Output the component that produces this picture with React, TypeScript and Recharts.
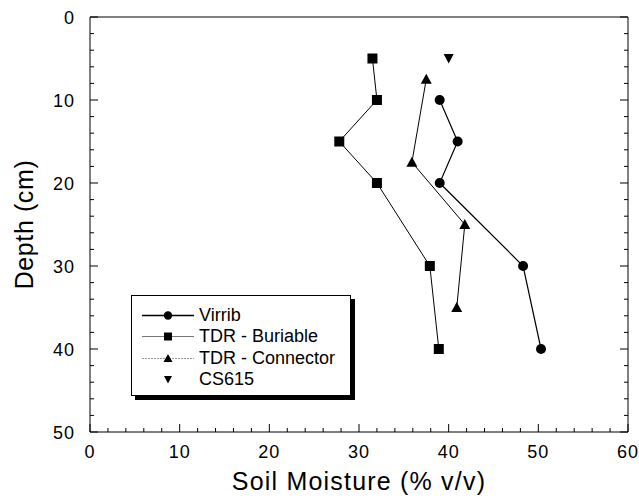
import React from "react";
import { Legend, Scatter, ScatterChart, XAxis, YAxis } from "recharts";

const FONT = '"Liberation Sans", Arial, Helvetica, sans-serif';

const xTicks = [0, 2, 4, 6, 8, 10, 12, 14, 16, 18, 20, 22, 24, 26, 28, 30, 32, 34, 36, 38, 40, 42, 44, 46, 48, 50, 52, 54, 56, 58, 60];
const yTicks = [0, 2, 4, 6, 8, 10, 12, 14, 16, 18, 20, 22, 24, 26, 28, 30, 32, 34, 36, 38, 40, 42, 44, 46, 48, 50];

const virribMoisture = [39, 41, 39, 48.3, 50.3];
const virribDepth = [10, 15, 20, 30, 40];
const buriableMoisture = [31.5, 32, 27.8, 32, 37.9, 38.9];
const buriableDepth = [5, 10, 15, 20, 30, 40];
const connectorMoisture = [37.5, 35.9, 41.8, 40.9];
const connectorDepth = [7.5, 17.5, 25, 35];
const cs615Moisture = [40];
const cs615Depth = [5];

const pts = (xs: number[], ys: number[]) => xs.map((x, i) => ({ x, y: ys[i] }));

const isMajor = (v: number) => v % 10 === 0;

function BottomTick(props: any) {
  const { x, y, payload } = props;
  const major = isMajor(payload.value);
  return (
    <g>
      <line x1={x} x2={x} y1={y} y2={y - (major ? 8 : 4)} stroke="#000" />
      {major && (
        <text x={x} y={y + 26} textAnchor="middle" fontSize={18} letterSpacing={1} fontFamily={FONT} fill="#000">
          {payload.value}
        </text>
      )}
    </g>
  );
}

function TopTick(props: any) {
  const { x, y, payload } = props;
  return <line x1={x} x2={x} y1={y} y2={y + (isMajor(payload.value) ? 8 : 4)} stroke="#000" />;
}

function LeftTick(props: any) {
  const { x, y, payload } = props;
  const major = isMajor(payload.value);
  return (
    <g>
      <line x1={x} x2={x + (major ? 8 : 4)} y1={y} y2={y} stroke="#000" />
      {major && (
        <text x={x - 15} y={y + 6.5} textAnchor="end" fontSize={18} letterSpacing={1} fontFamily={FONT} fill="#000">
          {payload.value}
        </text>
      )}
    </g>
  );
}

function RightTick(props: any) {
  const { x, y, payload } = props;
  return <line x1={x} x2={x - (isMajor(payload.value) ? 8 : 4)} y1={y} y2={y} stroke="#000" />;
}

const Circle = ({ cx, cy }: any) => <circle cx={cx} cy={cy} r={5} fill="#000" />;
const Square = ({ cx, cy }: any) => <rect x={cx - 5} y={cy - 5} width={10} height={10} fill="#000" />;
const Triangle = ({ cx, cy }: any) => (
  <polygon points={`${cx},${cy - 5.5} ${cx + 5.5},${cy + 4.5} ${cx - 5.5},${cy + 4.5}`} fill="#000" />
);
const DownTriangle = ({ cx, cy }: any) => (
  <polygon points={`${cx - 5},${cy - 4.5} ${cx + 5},${cy - 4.5} ${cx},${cy + 5}`} fill="#000" />
);

const legendRows = [
  { name: "Virrib", stroke: "#000", width: 1.4, dash: undefined, mark: "circle" },
  { name: "TDR - Buriable", stroke: "#777", width: 1, dash: undefined, mark: "square" },
  { name: "TDR - Connector", stroke: "#999", width: 1, dash: "2 1", mark: "triangle" },
  { name: "CS615", stroke: "none", width: 0, dash: undefined, mark: "down" },
];

function LegendMark({ mark }: { mark: string }) {
  const cx = 36;
  const cy = 10.5;
  if (mark === "circle") return <circle cx={cx} cy={cy} r={4.2} fill="#000" />;
  if (mark === "square") return <rect x={cx - 4} y={cy - 4} width={8} height={8} fill="#000" />;
  if (mark === "triangle")
    return <polygon points={`${cx},${cy - 4.5} ${cx + 4.5},${cy + 3.5} ${cx - 4.5},${cy + 3.5}`} fill="#000" />;
  return <polygon points={`${cx - 4},${cy - 3.5} ${cx + 4},${cy - 3.5} ${cx},${cy + 4}`} fill="#000" />;
}

function LegendBox() {
  return (
    <div
      style={{
        width: 218,
        height: 90,
        border: "1px solid #000",
        boxShadow: "4px 4px 0 #000",
        background: "#fff",
        paddingTop: 9,
        boxSizing: "content-box",
        fontFamily: FONT,
        fontSize: 18,
      }}
    >
      {legendRows.map((r) => (
        <div key={r.name} style={{ display: "flex", alignItems: "center", height: 21.3 }}>
          <svg width={64} height={21}>
            {r.stroke !== "none" && (
              <line x1={10} x2={62} y1={10.5} y2={10.5} stroke={r.stroke} strokeWidth={r.width} strokeDasharray={r.dash} />
            )}
            <LegendMark mark={r.mark} />
          </svg>
          <span style={{ marginLeft: 3, lineHeight: "21px" }}>{r.name}</span>
        </div>
      ))}
    </div>
  );
}

export default function App() {
  return (
    <div style={{ position: "absolute", left: 0, top: 0, background: "#fff" }}>
      <ScatterChart width={639} height={502} margin={{ top: 0, right: 0, bottom: 0, left: 0 }}>
        <XAxis
          xAxisId="bottom"
          type="number"
          dataKey="x"
          domain={[0, 60]}
          ticks={xTicks}
          interval={0}
          allowDataOverflow
          height={70}
          tickSize={0}
          tickMargin={0}
          tickLine={false}
          axisLine={{ stroke: "#000" }}
          tick={(p: any) => <BottomTick {...p} />}
          label={({ viewBox }: any) => (
            <text
              x={viewBox.x + viewBox.width / 2}
              y={viewBox.y + 58}
              textAnchor="middle"
              fontSize={25}
              letterSpacing={1.2}
              fontFamily={FONT}
              fill="#000"
            >
              Soil Moisture (% v/v)
            </text>
          )}
        />
        <XAxis
          xAxisId="top"
          orientation="top"
          type="number"
          domain={[0, 60]}
          ticks={xTicks}
          interval={0}
          allowDataOverflow
          height={17}
          tickSize={0}
          tickMargin={0}
          tickLine={false}
          axisLine={{ stroke: "#000" }}
          tick={(p: any) => <TopTick {...p} />}
        />
        <YAxis
          yAxisId="left"
          type="number"
          dataKey="y"
          domain={[0, 50]}
          reversed
          ticks={yTicks}
          interval={0}
          allowDataOverflow
          width={90}
          tickSize={0}
          tickMargin={0}
          tickLine={false}
          axisLine={{ stroke: "#000" }}
          tick={(p: any) => <LeftTick {...p} />}
          label={({ viewBox }: any) => {
            const cx = viewBox.x + 24;
            const cy = viewBox.y + viewBox.height / 2;
            return (
              <text
                x={cx}
                y={cy}
                transform={`rotate(-90, ${cx}, ${cy})`}
                textAnchor="middle"
                dominantBaseline="central"
                fontSize={25}
                letterSpacing={0.6}
                fontFamily={FONT}
                fill="#000"
              >
                Depth (cm)
              </text>
            );
          }}
        />
        <YAxis
          yAxisId="right"
          orientation="right"
          type="number"
          domain={[0, 50]}
          reversed
          ticks={yTicks}
          interval={0}
          allowDataOverflow
          width={11}
          tickSize={0}
          tickMargin={0}
          tickLine={false}
          axisLine={{ stroke: "#000" }}
          tick={(p: any) => <RightTick {...p} />}
        />
        <Scatter
          name="Virrib"
          xAxisId="bottom"
          yAxisId="left"
          data={pts(virribMoisture, virribDepth)}
          line={{ stroke: "#000", strokeWidth: 1.2 }}
          lineType="joint"
          shape={Circle}
          fill="#000"
          isAnimationActive={false}
        />
        <Scatter
          name="TDR - Buriable"
          xAxisId="bottom"
          yAxisId="left"
          data={pts(buriableMoisture, buriableDepth)}
          line={{ stroke: "#000", strokeWidth: 1 }}
          lineType="joint"
          shape={Square}
          fill="#000"
          isAnimationActive={false}
        />
        <Scatter
          name="TDR - Connector"
          xAxisId="bottom"
          yAxisId="left"
          data={pts(connectorMoisture, connectorDepth)}
          line={{ stroke: "#000", strokeWidth: 1 }}
          lineType="joint"
          shape={Triangle}
          fill="#000"
          isAnimationActive={false}
        />
        <Scatter
          name="CS615"
          xAxisId="bottom"
          yAxisId="left"
          data={pts(cs615Moisture, cs615Depth)}
          shape={DownTriangle}
          fill="#000"
          isAnimationActive={false}
        />
        <Legend
          layout="vertical"
          align="center"
          verticalAlign="middle"
          wrapperStyle={{ left: 131, top: 295, width: 224, height: 106 }}
          content={() => <LegendBox />}
        />
      </ScatterChart>
    </div>
  );
}
